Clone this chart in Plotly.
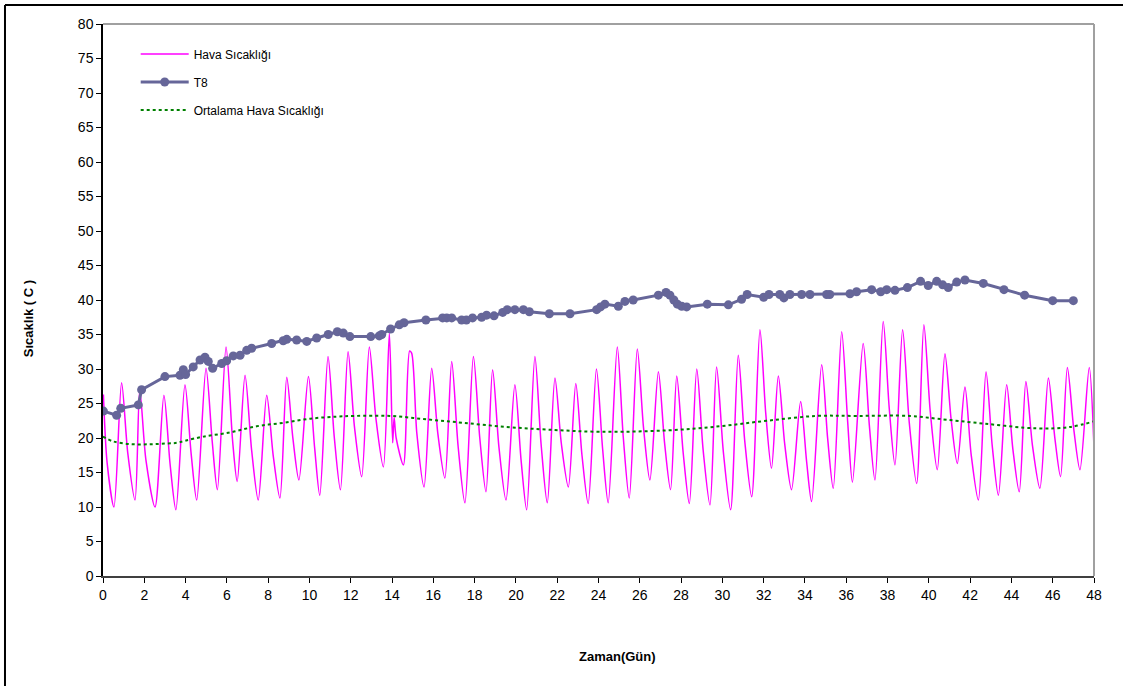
import plotly.graph_objects as go

# Hava Sıcaklığı (air temperature) - traced points (day, °C)
hava_x = [0.02, 0.2, 0.53, 0.9, 1.2, 1.55, 1.78, 2.08, 2.52, 2.95, 3.25, 3.53, 3.97, 4.27, 4.54,
          4.99, 5.29, 5.54, 5.96, 6.28, 6.5, 6.88, 7.2, 7.52, 7.93, 8.25, 8.57, 8.9, 9.2, 9.49,
          9.95, 10.25, 10.5, 10.9, 11.2, 11.5, 11.87, 12.18, 12.53, 12.9, 13.22, 13.58, 13.87,
          14.03, 14.1, 14.2, 14.55, 14.85, 14.95, 15.2, 15.55, 15.92, 16.22, 16.56, 16.89, 17.2,
          17.53, 17.94, 18.25, 18.55, 18.87, 19.18, 19.52, 19.95, 20.25, 20.52, 20.92, 21.22,
          21.52, 21.89, 22.2, 22.54, 22.9, 23.2, 23.5, 23.9, 24.2, 24.47, 24.91, 25.2, 25.49,
          25.88, 26.18, 26.49, 26.9, 27.2, 27.49, 27.79, 28.1, 28.4, 28.76, 29.07, 29.4, 29.72,
          30.05, 30.4, 30.77, 31.08, 31.42, 31.82, 32.1, 32.38, 32.71, 33.02, 33.35, 33.79,
          34.08, 34.32, 34.81, 35.1, 35.37, 35.78, 36.07, 36.3, 36.82, 37.12, 37.39, 37.79,
          38.08, 38.36, 38.73, 39.05, 39.41, 39.76, 40.07, 40.41, 40.78, 41.08, 41.38, 41.75,
          42.05, 42.4, 42.77, 43.07, 43.37, 43.77, 44.07, 44.38, 44.7, 45.02, 45.38, 45.79,
          46.1, 46.38, 46.71, 47.02, 47.32, 47.77, 48.0]
hava_y = [26.3, 16.4, 10.0, 28.0, 17.8, 11.0, 27.0, 16.8, 10.0, 26.2, 16.2, 9.6, 27.7, 17.7, 11.0,
          30.1, 19.5, 12.5, 33.2, 19.5, 13.7, 29.1, 18.2, 11.0, 26.2, 17.3, 11.3, 28.8, 19.9, 13.9,
          28.9, 18.6, 11.7, 31.8, 20.2, 12.5, 32.5, 21.6, 14.4, 33.2, 22.8, 15.8, 35.2,
          19.3, 23.0, 20.0, 16.1, 32.6, 32.3, 20.7, 12.9, 30.1, 20.6, 14.2, 31.1, 18.8,
          10.6, 31.8, 20.0, 12.2, 29.9, 18.6, 11.0, 27.7, 16.8, 9.6, 31.8, 19.1,
          10.6, 28.7, 19.2, 12.9, 27.9, 17.5, 10.5, 30.0, 18.4, 10.6, 33.2, 20.1, 11.3,
          32.9, 21.5, 13.9, 29.6, 19.3, 12.5, 29.0, 17.9, 10.5, 30.0, 18.2, 10.3, 30.3,
          17.9, 9.6, 32.0, 19.7, 11.5, 35.7, 23.6, 15.6, 29.0, 19.1, 12.5, 25.3,
          16.6, 10.8, 30.6, 19.9, 12.7, 35.4, 22.3, 13.6, 33.7, 21.8, 13.9, 36.9,
          24.4, 16.1, 35.7, 22.3, 13.4, 36.4, 23.8, 15.4, 32.2, 22.7, 16.3, 27.4,
          17.6, 11.0, 29.6, 18.9, 11.7, 27.7, 18.4, 12.2, 28.2, 18.9, 12.7, 28.7,
          20.1, 14.4, 30.2, 21.3, 15.4, 30.2, 18.5]

# T8 measurements
t8_x = [0.02, 0.66, 0.86, 1.71, 1.87, 3.0, 3.73, 3.89, 4.0, 4.37, 4.7, 4.94, 5.1, 5.31, 5.75,
        5.99, 6.31, 6.64, 6.96, 7.2, 8.17, 8.73, 8.9, 9.38, 9.87, 10.35, 10.91, 11.35, 11.64,
        11.96, 12.97, 13.38, 13.5, 13.93, 14.35, 14.58, 15.64, 16.45, 16.65, 16.89, 17.37,
        17.6, 17.9, 18.34, 18.58, 18.94, 19.36, 19.58, 19.95, 20.36, 20.65, 21.62, 22.62,
        23.91, 24.1, 24.31, 24.96, 25.28, 25.68, 26.9, 27.27, 27.46, 27.65, 27.82, 28.03,
        28.27, 29.27, 30.29, 30.93, 31.2, 32.0, 32.26, 32.78, 32.98, 33.27, 33.84, 34.24,
        35.05, 35.2, 36.18, 36.5, 37.23, 37.67, 37.96, 38.36, 38.96, 39.6, 39.97, 40.38,
        40.67, 40.94, 41.35, 41.75, 42.64, 43.64, 44.64, 46.0, 47.0]
t8_y = [23.9, 23.3, 24.3, 24.8, 27.0, 28.9, 29.1, 29.9, 29.2, 30.3, 31.3, 31.7, 31.1, 30.1, 30.8,
        31.2, 31.9, 32.0, 32.7, 33.0, 33.7, 34.1, 34.3, 34.2, 34.0, 34.5, 35.0, 35.4, 35.2,
        34.7, 34.7, 34.8, 35.0, 35.8, 36.4, 36.7, 37.1, 37.4, 37.4, 37.4, 37.1,
        37.1, 37.4, 37.5, 37.8, 37.7, 38.2, 38.6, 38.6, 38.6, 38.3, 38.0, 38.0,
        38.6, 39.0, 39.4, 39.1, 39.8, 40.0, 40.7, 41.1, 40.7, 40.0, 39.4, 39.1,
        39.0, 39.4, 39.3, 40.1, 40.8, 40.4, 40.8, 40.8, 40.3, 40.8, 40.8, 40.8,
        40.8, 40.8, 40.9, 41.2, 41.5, 41.2, 41.5, 41.4, 41.8, 42.7, 42.1, 42.7,
        42.2, 41.8, 42.6, 42.9, 42.4, 41.5, 40.7, 39.9, 39.9]

# Ortalama Hava Sıcaklığı (mean air temperature)
ort_x = [0.0, 0.5, 1.4, 2.3, 3.08, 3.57, 3.97, 4.86, 6.15, 7.44, 8.73, 10.03, 11.32, 12.2,
         13.9, 15.68, 17.45, 19.55, 21.65, 24.07, 27.3, 29.88, 32.15, 34.57, 36.5, 39.1,
         40.38, 42.64, 45.22, 46.84, 47.97]
ort_y = [20.2, 19.5, 19.1, 19.1, 19.2, 19.3, 19.6, 20.2, 20.8, 21.7, 22.2, 22.8, 23.1, 23.2,
         23.2, 22.7, 22.2, 21.6, 21.2, 20.9, 21.1, 21.7, 22.5, 23.2, 23.2, 23.2,
         22.8, 22.1, 21.4, 21.6, 22.4]

x_ticks = list(range(0, 49, 2))
y_ticks = list(range(0, 81, 5))

FONT = "Arial, 'Liberation Sans', sans-serif"

fig = go.Figure()
fig.add_trace(go.Scatter(x=hava_x, y=hava_y, mode="lines", name="Hava Sıcaklığı",
                         legendgroup="a",
                         line=dict(color="#FF00FF", width=1.5, shape="spline", smoothing=0.8)))
fig.add_trace(go.Scatter(x=t8_x, y=t8_y, mode="lines+markers", name="T8",
                         legendgroup="b",
                         line=dict(color="#666699", width=3),
                         marker=dict(color="#666699", size=9)))
fig.add_trace(go.Scatter(x=ort_x, y=ort_y, mode="lines", name="Ortalama Hava Sıcaklığı",
                         legendgroup="c",
                         line=dict(color="#008000", width=2, dash="dot", shape="spline")))

fig.update_layout(
    width=1123, height=686,
    margin=dict(l=103, r=29, t=24, b=110),
    paper_bgcolor="white", plot_bgcolor="white",
    font=dict(family=FONT, size=13, color="black"),
    showlegend=True,
    legend=dict(x=0.033, y=0.972, xanchor="left", yanchor="top",
                bgcolor="rgba(0,0,0,0)", font=dict(size=12, family=FONT),
                tracegroupgap=9, itemwidth=48),
    xaxis=dict(range=[0, 48], tickmode="array", tickvals=x_ticks, ticks="outside",
               ticklen=5, tickcolor="black", showgrid=False, zeroline=False,
               showline=True, linecolor="#404040", linewidth=2,
               tickfont=dict(size=14, family=FONT)),
    yaxis=dict(range=[0, 80], tickmode="array", tickvals=y_ticks, ticks="outside",
               ticklen=5, tickcolor="black", showgrid=False, zeroline=False,
               showline=True, linecolor="black", linewidth=1.5,
               tickfont=dict(size=14, family=FONT)),
    shapes=[
        dict(type="line", xref="paper", yref="paper", x0=0, x1=1, y0=1, y1=1,
             line=dict(color="#A0A0A0", width=2)),
        dict(type="line", xref="paper", yref="paper", x0=1, x1=1, y0=0, y1=1,
             line=dict(color="#A0A0A0", width=2)),
        dict(type="line", xref="paper", yref="paper", x0=-0.0989, x1=1.05, y0=1.0344, y1=1.0344,
             line=dict(color="black", width=2)),
        dict(type="line", xref="paper", yref="paper", x0=-0.0989, x1=-0.0989, y0=1.0344, y1=-0.25,
             line=dict(color="black", width=2)),
    ],
    annotations=[
        dict(text="<b>Zaman(Gün)</b>", xref="paper", yref="paper", x=0.5187, y=-0.1467,
             xanchor="center", yanchor="middle",
             showarrow=False, font=dict(size=13, family=FONT)),
        dict(text="<b>Sıcaklık ( C )</b>", xref="paper", yref="paper", x=-0.0757, y=0.467,
             xanchor="center", yanchor="middle",
             showarrow=False, textangle=-90, font=dict(size=13, family=FONT)),
    ],
)

fig.write_html("out.html", config={"displayModeBar": False},
               post_script="document.body.style.margin='0px';document.body.style.overflow='hidden';")
